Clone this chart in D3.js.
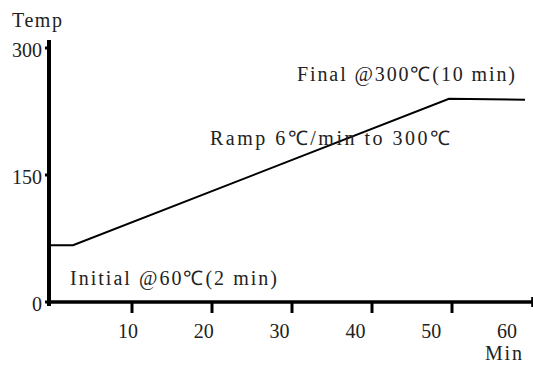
<!DOCTYPE html>
<html lang="en">
<head>
  <meta charset="UTF-8">
  <style>
body {
    margin: 0;
    background: #fff;
}
svg text {
    font-family: "Liberation Serif", "Times New Roman", serif;
    font-size: 20px;
    fill: #222;
}
.axis-line {
    stroke: #000;
    fill: none;
}
.profile {
    stroke: #000;
    stroke-width: 2px;
    fill: none;
}
  </style>
  <title>Oven program</title>
</head>
<body>
<div id="wrapper"></div>
<script src="https://cdnjs.cloudflare.com/ajax/libs/d3/7.8.5/d3.min.js"></script>
<script>
// DATA
const timeMin = [0, 3, 50, 59.5]
const tempC = [67, 67, 240, 239]
const xTicks = [10, 20, 30, 40, 50, 60]
const yTicks = [0, 150, 300]
const notes = ["Final  @300℃(10 min)", "Ramp  6℃/min  to  300℃", "Initial  @60℃(2 min)"]

function drawChart() {
  const dimensions = { width: 533, height: 367 }

  const xScale = d3.scaleLinear().domain([0, 60]).range([49, 529])
  // tick labels sit a little left of their ticks in the original
  const xLabelScale = d3.scaleLinear().domain([10, 60]).range([128, 507])
  const yScale = d3.scaleLinear().domain([0, 300]).range([302, 48])

  const svg = d3.select("#wrapper").append("svg")
    .attr("width", dimensions.width)
    .attr("height", dimensions.height)

  // profile line
  const line = d3.line()
    .x((d, i) => xScale(timeMin[i]))
    .y((d, i) => yScale(tempC[i]))
  svg.append("path").attr("class", "profile").attr("d", line(timeMin))

  // axes lines
  svg.append("line").attr("class", "axis-line")
    .attr("x1", xScale(0)).attr("x2", xScale(0))
    .attr("y1", yScale(300) - 8).attr("y2", yScale(0) + 4)
    .attr("stroke-width", 4)
  svg.append("line").attr("class", "axis-line")
    .attr("x1", xScale(0) - 2).attr("x2", xScale(60.4))
    .attr("y1", yScale(0)).attr("y2", yScale(0))
    .attr("stroke-width", 3.5)

  // x ticks (downward) and labels
  svg.selectAll(".xtick").data(xTicks.filter(d => d < 60)).enter().append("line")
    .attr("class", "axis-line")
    .attr("x1", d => xScale(d) + 3).attr("x2", d => xScale(d) + 3)
    .attr("y1", yScale(0)).attr("y2", yScale(0) + 11)
    .attr("stroke-width", 3)
  svg.append("line").attr("class", "axis-line")
    .attr("x1", xScale(60.4)).attr("x2", xScale(60.4))
    .attr("y1", yScale(0) - 5).attr("y2", yScale(0) + 5)
    .attr("stroke-width", 2)
  svg.selectAll(".xlabel").data(xTicks).enter().append("text")
    .attr("x", d => xLabelScale(d))
    .attr("y", 338)
    .attr("text-anchor", "middle")
    .text(d => d)

  // y ticks and labels
  svg.selectAll(".ytick").data(yTicks).enter().append("line")
    .attr("class", "axis-line")
    .attr("x1", xScale(0) - 4).attr("x2", xScale(0))
    .attr("y1", d => yScale(d)).attr("y2", d => yScale(d))
    .attr("stroke-width", 3)
  svg.selectAll(".ylabel").data(yTicks).enter().append("text")
    .attr("x", 42)
    .attr("y", d => yScale(d) + 9)
    .attr("text-anchor", "end")
    .text(d => d)

  // axis titles
  svg.append("text").attr("x", 12).attr("y", 27).attr("textLength", 50).text("Temp")
  svg.append("text").attr("x", 485).attr("y", 360).attr("textLength", 37).text("Min")

  // annotations
  const notePos = [[297, 81, 218], [210, 145, 240], [70, 285, 207]]
  svg.selectAll(".note").data(notes).enter().append("text")
    .attr("x", (d, i) => notePos[i][0])
    .attr("y", (d, i) => notePos[i][1])
    .attr("textLength", (d, i) => notePos[i][2])
    .attr("lengthAdjust", "spacing")
    .text(d => d)
}
drawChart()
</script>
</body>
</html>
